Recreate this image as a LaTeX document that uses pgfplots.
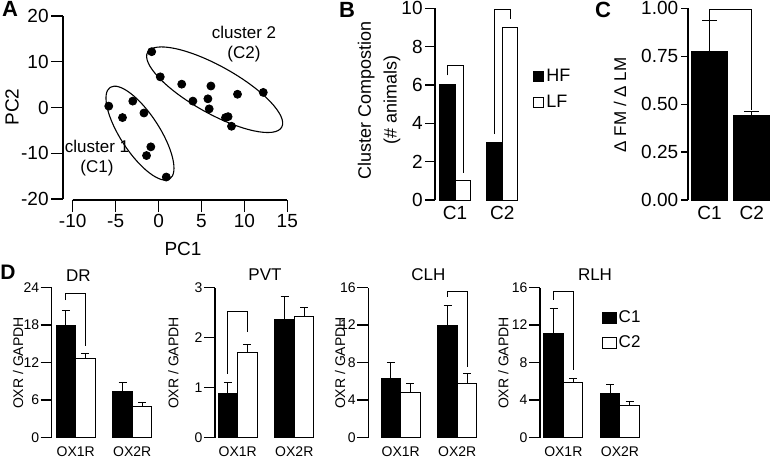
\documentclass[border=0pt]{standalone}
\usepackage{fontspec}
\setmainfont{Liberation Sans}
\usepackage{pgfplots}
\pgfplotsset{compat=1.18}

% one pixel of the reference = 0.5pt, y measured downwards
\newcommand\px[2]{({(#1)*0.5pt},{(457-(#2))*0.5pt})}
\newcommand\fs[1]{\fontsize{#1}{#1}\selectfont}

\tikzset{yline/.style={line width=0.6pt, black}}

\pgfplotsset{
  panel/.style={
    scale only axis,
    axis lines*=left,
    tick align=outside,
    axis line style={black, line width=0.6pt},
    every tick/.style={black, line width=0.6pt},
    /pgf/number format/assume math mode=true,
    tick label style={font=\fs{9.5}},
    clip=false,
  },
  barpanel/.style={
    panel,
    x axis line style={draw=none},
    xtick style={draw=none},
    xtick={1,2},
    ybar=0pt,
  },
  dpanel/.style={
    barpanel,
    height=75pt, xmax=2.4, ymin=0,
    bar width=9.75pt,
    xticklabels={OX1R,OX2R},
    x tick label style={font=\fs{7}, inner sep=0pt},
    y tick label style={font=\fs{7}, inner sep=0.6pt},
    major tick length=5.5pt,
    xticklabel shift=-1.3pt,
  },
  blk/.style={fill=black, draw=black, line width=0.5pt},
  wht/.style={fill=white, draw=black, line width=0.5pt},
  errs/.style={
    error bars/y dir=plus, error bars/y explicit,
    error bars/error bar style={black, line width=0.5pt},
    error bars/error mark options={rotate=90, black, line width=0.5pt, mark size=#1}},
  sqB/.style={legend image code/.code={\draw[##1] (0pt,-2.5pt) rectangle (5pt,2.5pt);}},
  sqD/.style={legend image code/.code={\draw[##1] (0pt,-2.65pt) rectangle (7pt,2.65pt);}},
}

\begin{document}
\begin{tikzpicture}
\useasboundingbox (0,0) rectangle (385pt,228.5pt);

% ---------------- A: PCA scatter
\begin{axis}[panel, at={(36.35pt,129pt)}, width=107.3pt, height=91.5pt,
  xmin=-10, xmax=15, ymin=-20, ymax=20,
  xtick={-10,-5,...,15}, ytick={-20,-10,...,20},
  axis x line shift=0.5pt, axis y line shift=4.85pt,
  major tick length=6pt, xticklabel shift=-2.3pt,
  y tick label style={inner sep=1pt}]
\addplot[only marks, mark=*, mark size=2pt, black] coordinates {
  (-0.8,12.2) (0.2,6.7) (2.7,5.1) (6.1,4.7) (9.2,2.9) (12.2,3.3)
  (4.0,1.4) (5.75,1.9) (5.9,-0.3) (7.8,-2.2) (8.1,-2.0) (8.5,-4.1)};
\addplot[only marks, mark=*, mark size=2pt, black] coordinates {
  (-5.8,0.3) (-3.0,1.4) (-4.2,-2.2) (-1.7,-1.2) (-0.9,-8.6) (-1.4,-10.5) (0.9,-15.2)};
\draw[yline] ([xshift=-4.85pt]rel axis cs:0,0) -- ([xshift=-4.85pt]rel axis cs:0,1);
\draw[yline] ([yshift=-0.5pt]rel axis cs:0,0) -- ([yshift=-0.5pt]rel axis cs:1,0);
\coordinate (e1) at (axis cs:-2.16,-5.6);
\coordinate (e2) at (axis cs:6.54,3.89);
\end{axis}
\draw[line width=0.55pt, rotate around={-56.9:(e1)}] (e1) ellipse [x radius=27.3pt, y radius=9.75pt];
\draw[line width=0.55pt, rotate around={-29.2:(e2)}] (e2) ellipse [x radius=38.4pt, y radius=11.85pt];
\node[font=\fontsize{8.5}{10}\selectfont, align=center] at \px{244}{44} {cluster 2\\(C2)};
\node[font=\fontsize{8.5}{10}\selectfont, align=center] at \px{97}{158} {cluster 1\\(C1)};
\node[font=\fs{9.5}, rotate=90] at \px{12}{107} {PC2};
\node[font=\fs{9.5}] at \px{183}{249} {PC1};

% ---------------- B: cluster composition
\begin{axis}[barpanel, at={(217.5pt,128.5pt)}, width=42.5pt, height=95.85pt,
  xmin=0.577, xmax=2.374, ymin=0, ymax=10, ytick={0,2,...,10},
  xticklabels={C1,C2}, bar width=7.75pt,
  major tick length=5pt, xticklabel shift=-5.6pt,
  y tick label style={inner sep=1pt},
  legend style={draw=none, fill=none, at={(axis description cs:1.153,0.574)},
    anchor=west, font=\fs{9}, inner sep=0pt, row sep=3.3pt,
    nodes={inner sep=1pt}},
  legend cell align=left]
\addplot[blk, sqB] coordinates {(1,6) (2,3)};
\addplot[wht, sqB] coordinates {(1,1) (2,9)};
\legend{HF,LF}
\draw[yline] (rel axis cs:0,0) -- (rel axis cs:0,1);
\draw[line width=0.5pt] (axis cs:0.837,6.5) -- (axis cs:0.837,7) -- (axis cs:1.175,7) -- (axis cs:1.175,1.4);
\draw[line width=0.5pt] (axis cs:1.825,3.44) -- (axis cs:1.825,9.95) -- (axis cs:2.163,9.95) -- (axis cs:2.163,9.44);
\end{axis}
\node[font=\fontsize{9}{12.85}\selectfont, align=center, rotate=90] at \px{379}{100}
  {Cluster Compostion\\(\# animals)};

% ---------------- C: dFM / dLM
\begin{axis}[barpanel, at={(344pt,128.5pt)}, width=41pt, height=95.85pt,
  xmin=0.4905, xmax=2.434, ymin=0, ymax=1,
  ytick={0,0.25,0.5,0.75,1},
  yticklabel style={inner sep=1.2pt, /pgf/number format/.cd, fixed, fixed zerofill, precision=2},
  xticklabels={C1,C2}, bar width=18pt,
  major tick length=3.5pt, xticklabel shift=-4.1pt]
\addplot[blk, errs=3.75pt] coordinates {(1,0.776) +- (0,0.161) (2,0.441) +- (0,0.021)};
\draw[yline] (rel axis cs:0,0) -- (rel axis cs:0,1);
\draw[line width=0.5pt] (axis cs:1,0.937) -- (axis cs:1,0.995) -- (axis cs:2,0.995) -- (axis cs:2,0.47);
\end{axis}
\node[font=\fs{8.5}, rotate=90] at \px{620}{105} {Δ FM / Δ LM};

% ---------------- D: DR
\begin{axis}[dpanel, at={(25.85pt,9.75pt)}, width=51.6pt,
  xmin=0.576, ymax=24, ytick={0,6,...,24}]
\addplot[blk, errs=2pt] coordinates {(1,17.9) +- (0,2.5) (2,7.3) +- (0,1.45)};
\addplot[wht, errs=2pt] coordinates {(1,12.7) +- (0,0.7) (2,5.0) +- (0,0.6)};
\draw[yline] (rel axis cs:0,0) -- (rel axis cs:0,1);
\draw[line width=0.5pt] (axis cs:0.828,22) -- (axis cs:0.828,23) -- (axis cs:1.172,23) -- (axis cs:1.172,14.6);
\end{axis}
% ---------------- D: PVT
\begin{axis}[dpanel, at={(107.5pt,9.75pt)}, width=50.97pt,
  xmin=0.599, ymax=3, ytick={0,1,2,3}]
\addplot[blk, errs=2pt] coordinates {(1,0.89) +- (0,0.21) (2,2.36) +- (0,0.47)};
\addplot[wht, errs=2pt] coordinates {(1,1.70) +- (0,0.17) (2,2.43) +- (0,0.17)};
\draw[yline] (rel axis cs:0,0) -- (rel axis cs:0,1);
\draw[line width=0.5pt] (axis cs:0.828,1.28) -- (axis cs:0.828,2.52) -- (axis cs:1.172,2.52) -- (axis cs:1.172,2.12);
\end{axis}
% ---------------- D: CLH
\begin{axis}[dpanel, at={(184.15pt,9.75pt)}, width=55.8pt,
  xmin=0.428, ymax=16, ytick={0,4,...,16}]
\addplot[blk, errs=2pt] coordinates {(1,6.3) +- (0,1.7) (2,11.9) +- (0,2.2)};
\addplot[wht, errs=2pt] coordinates {(1,4.8) +- (0,1.0) (2,5.8) +- (0,1.0)};
\draw[yline] (rel axis cs:0,0) -- (rel axis cs:0,1);
\draw[line width=0.5pt] (axis cs:1.828,15.0) -- (axis cs:1.828,15.55) -- (axis cs:2.172,15.55) -- (axis cs:2.172,7.55);
\end{axis}
% ---------------- D: RLH
\begin{axis}[dpanel, at={(270pt,9.75pt)}, width=51.28pt,
  xmin=0.588, ymax=16, ytick={0,4,...,16},
  legend style={draw=none, fill=none, at={(axis description cs:0.598,0.713)},
    anchor=west, font=\fs{8.5}, inner sep=0pt, row sep=3.2pt,
    nodes={inner sep=1pt}, /tikz/every even column/.append style={column sep=2.5pt}},
  legend cell align=left]
\addplot[blk, sqD, errs=2pt] coordinates {(1,11.1) +- (0,2.7) (2,4.7) +- (0,0.95)};
\addplot[wht, sqD, errs=2pt] coordinates {(1,5.9) +- (0,0.35) (2,3.45) +- (0,0.37)};
\legend{C1,C2}
\draw[yline] (rel axis cs:0,0) -- (rel axis cs:0,1);
\draw[line width=0.5pt] (axis cs:0.828,14.7) -- (axis cs:0.828,15.55) -- (axis cs:1.172,15.55) -- (axis cs:1.172,7.2);
\end{axis}

\foreach \xx in {18,173.3,340,503.3}
  \node[font=\fs{7}, rotate=90] at \px{\xx}{363} {OXR / GAPDH};
\node[font=\fs{8.5}] at \px{78.3}{276} {DR};
\node[font=\fs{8.5}] at \px{265}{275} {PVT};
\node[font=\fs{8.5}] at \px{428.3}{275} {CLH};
\node[font=\fs{8.5}] at \px{595}{275} {RLH};

% panel letters
\node[font=\bfseries\fs{11}] at \px{10}{9} {A};
\node[font=\bfseries\fs{11}] at \px{347}{10} {B};
\node[font=\bfseries\fs{11}] at \px{603}{10} {C};
\node[font=\bfseries\fs{10.5}] at \px{8}{272} {D};
\end{tikzpicture}
\end{document}
